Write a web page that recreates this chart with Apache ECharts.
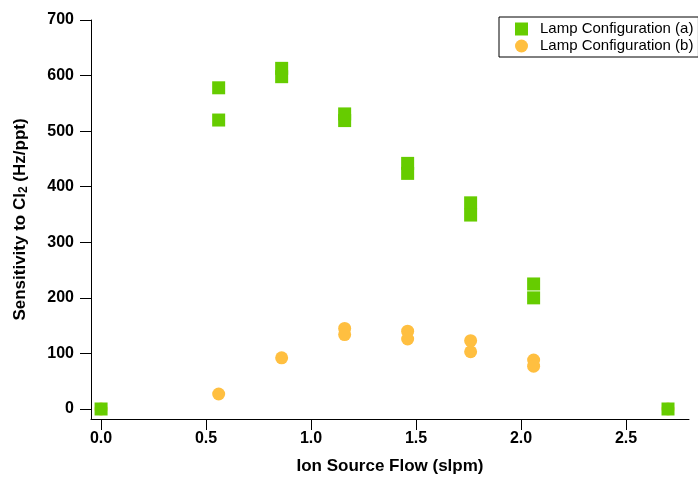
<!DOCTYPE html>
<html>
<head>
<meta charset="utf-8">
<script src="https://cdn.jsdelivr.net/npm/echarts@6/dist/echarts.min.js"></script>
<style>
  html, body { margin: 0; padding: 0; background: #fff; }
  #chart { width: 698px; height: 480px; }
</style>
</head>
<body>
<div id="chart"></div>
<script>
// flow (slpm) and sensitivity (Hz/ppt)
var flowA = [0, 0.56, 0.56, 0.86, 0.86, 1.16, 1.16, 1.46, 1.46, 1.76, 1.76, 2.06, 2.06, 2.70];
var sensA = [0, 578, 520, 613, 598, 531, 519, 442, 424, 371, 349, 225, 200, 0];
var flowB = [0, 0.56, 0.86, 1.16, 1.16, 1.46, 1.46, 1.76, 1.76, 2.06, 2.06, 2.70];
var sensB = [0, 27, 92, 145, 134, 140, 126, 123, 103, 88, 77, 0];
var xTicks = [0, 0.5, 1.0, 1.5, 2.0, 2.5];
var yTicks = [0, 100, 200, 300, 400, 500, 600, 700];

function pairs(xs, ys) {
  var out = [];
  for (var i = 0; i < xs.length; i++) out.push([xs[i], ys[i]]);
  return out;
}

var font = 'Liberation Sans, Arial, sans-serif';

var chart = echarts.init(document.getElementById('chart'));
chart.setOption({
  animation: false,
  backgroundColor: '#fff',
  grid: { left: 91, top: 20, right: 9, bottom: 59 },
  legend: {
    orient: 'vertical',
    left: 499,
    top: 17,
    padding: [4, 5, 3, 16],
    itemGap: 1,
    itemWidth: 13,
    itemHeight: 13,
    borderColor: '#000',
    borderWidth: 1,
    textStyle: { fontFamily: font, fontSize: 15, color: '#000', lineHeight: 16, padding: [0, 0, 0, 7] },
    data: ['Lamp Configuration (a)', 'Lamp Configuration (b)']
  },
  xAxis: {
    type: 'value',
    min: -0.048,
    max: 2.8,
    interval: 0.5,
    name: 'Ion Source Flow (slpm)',
    nameLocation: 'middle',
    nameGap: 39,
    nameTextStyle: { fontFamily: font, fontSize: 17, fontWeight: 'bold', color: '#000' },
    splitLine: { show: false },
    axisLine: { onZero: false, lineStyle: { color: '#000', width: 1 } },
    axisTick: { show: true, length: 11, lineStyle: { color: '#000' },
      customValues: xTicks },
    axisLabel: {
      margin: 12, fontFamily: font, fontSize: 16, fontWeight: 'bold', color: '#000',
      customValues: xTicks,
      formatter: function (v) { return v.toFixed(1); }
    }
  },
  yAxis: {
    type: 'value',
    min: -18,
    max: 700,
    name: '{a|Sensitivity to Cl}{s|2}{a| (Hz/ppt)}',
    nameLocation: 'middle',
    nameRotate: 90,
    nameGap: 61,
    nameTextStyle: {
      fontFamily: font, fontSize: 17, fontWeight: 'bold', color: '#000',
      rich: {
        a: { fontFamily: font, fontSize: 17, fontWeight: 'bold', color: '#000', lineHeight: 20 },
        s: { fontFamily: font, fontSize: 12, fontWeight: 'bold', color: '#000', lineHeight: 20, verticalAlign: 'bottom', padding: [7, 0, 0, 0] }
      }
    },
    splitLine: { show: false },
    axisLine: { show: true, onZero: false, lineStyle: { color: '#000', width: 1 } },
    axisTick: { show: true, length: 11, lineStyle: { color: '#000' },
      customValues: yTicks },
    axisLabel: {
      margin: 17, fontFamily: font, fontSize: 16, fontWeight: 'bold', color: '#000',
      customValues: yTicks
    }
  },
  series: [
    {
      name: 'Lamp Configuration (a)',
      type: 'scatter',
      symbol: 'rect',
      symbolSize: 13,
      z: 3,
      itemStyle: { color: '#66CC00', opacity: 1 },
      data: pairs(flowA, sensA)
    },
    {
      name: 'Lamp Configuration (b)',
      type: 'scatter',
      symbol: 'circle',
      symbolSize: 13,
      z: 2,
      itemStyle: { color: '#FFBF40', opacity: 1 },
      data: pairs(flowB, sensB)
    }
  ]
});
</script>
</body>
</html>
